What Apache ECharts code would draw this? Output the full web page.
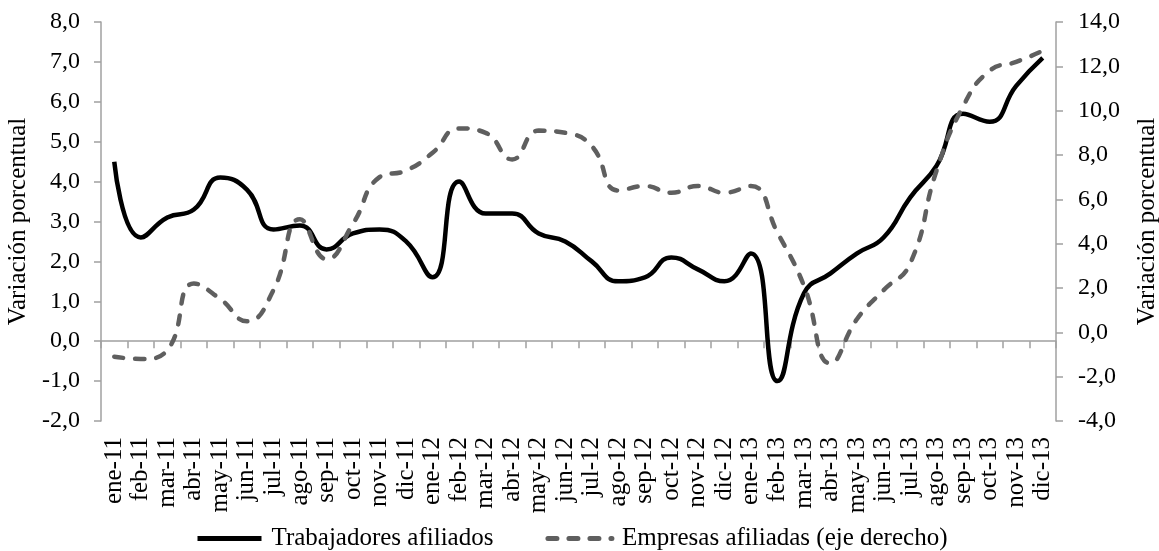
<!DOCTYPE html>
<html>
<head>
<meta charset="utf-8">
<script src="https://cdn.jsdelivr.net/npm/echarts@6/dist/echarts.min.js"></script>
<style>
  html, body { margin: 0; padding: 0; background: #fff; }
  #chart { width: 1159px; height: 551px; }
</style>
</head>
<body>
<div id="chart"></div>
<script>
const months = [
  "ene-11", "feb-11", "mar-11", "abr-11", "may-11", "jun-11", "jul-11", "ago-11", "sep-11", "oct-11", "nov-11", "dic-11",
  "ene-12", "feb-12", "mar-12", "abr-12", "may-12", "jun-12", "jul-12", "ago-12", "sep-12", "oct-12", "nov-12", "dic-12",
  "ene-13", "feb-13", "mar-13", "abr-13", "may-13", "jun-13", "jul-13", "ago-13", "sep-13", "oct-13", "nov-13", "dic-13"
];

// eje izquierdo
const trabajadores = [
  4.5, 2.6, 3.1, 3.3, 4.1, 3.8, 2.8, 2.9, 2.3, 2.7, 2.8, 2.5,
  1.6, 4.0, 3.2, 3.2, 2.7, 2.5, 2.0, 1.5, 1.6, 2.1, 1.8, 1.5,
  2.2, -1.0, 1.2, 1.7, 2.2, 2.6, 3.6, 4.4, 5.7, 5.5, 6.4, 7.1
];

// eje derecho
const empresas = [
  -1.1, -1.2, -0.8, 2.2, 1.5, 0.5, 1.9, 5.1, 3.3, 4.9, 7.0, 7.3,
  8.1, 9.2, 9.0, 7.8, 9.1, 9.0, 8.4, 6.4, 6.6, 6.3, 6.6, 6.3,
  6.6, 4.5, 2.1, -1.4, 0.6, 1.9, 3.1, 7.3, 10.2, 11.8, 12.2, 12.7
];

const font = "Liberation Serif";
const axisGray = "#a0a0a0";
const fmt = (v) => v.toFixed(1).replace(".", ",");

const chart = echarts.init(document.getElementById("chart"));

chart.setOption({
  animation: false,
  textStyle: { fontFamily: font, color: "#000" },
  grid: { left: 101, right: 103, top: 22, bottom: 130, containLabel: false, outerBoundsMode: "none" },
  legend: {
    top: 521,
    left: 190,
    itemWidth: 64,
    itemHeight: 14,
    itemGap: 52,
    itemStyle: { opacity: 0 },
    lineStyle: { width: 5 },
    textStyle: { fontFamily: font, fontSize: 25, color: "#000", padding: [0, 0, 0, 5] },
    data: ["Trabajadores afiliados", "Empresas afiliadas (eje derecho)"]
  },
  xAxis: [
    {
      type: "category",
      data: months,
      position: "bottom",
      boundaryGap: true,
      axisLine: { onZero: true, onZeroAxisIndex: 0, lineStyle: { color: axisGray, width: 1.5 } },
      axisTick: { show: true, interval: 0, length: 7, lineStyle: { color: axisGray, width: 1.5 } },
      axisLabel: { show: false }
    },
    {
      type: "category",
      data: months,
      position: "bottom",
      boundaryGap: true,
      axisLine: { show: false, onZero: false },
      axisTick: { show: false },
      axisLabel: {
        interval: 0,
        rotate: 90,
        margin: 16,
        fontSize: 25,
        fontFamily: font,
        color: "#000"
      }
    }
  ],
  yAxis: [
    {
      type: "value",
      min: -2,
      max: 8,
      interval: 1,
      name: "Variación porcentual",
      nameLocation: "middle",
      nameRotate: 90,
      nameGap: 67,
      nameTextStyle: { fontSize: 25, fontFamily: font, color: "#000" },
      axisLine: { show: true, lineStyle: { color: axisGray, width: 1.5 } },
      axisTick: { show: true, length: 7, lineStyle: { color: axisGray, width: 1.5 } },
      splitLine: { show: false },
      axisLabel: { formatter: fmt, fontSize: 24, fontFamily: font, margin: 21, color: "#000" }
    },
    {
      type: "value",
      position: "right",
      min: -4,
      max: 14,
      interval: 2,
      name: "Variación porcentual",
      nameLocation: "middle",
      nameRotate: 90,
      nameGap: 79,
      nameTextStyle: { fontSize: 25, fontFamily: font, color: "#000" },
      axisLine: { show: true, lineStyle: { color: axisGray, width: 1.5 } },
      axisTick: { show: true, length: 7, lineStyle: { color: axisGray, width: 1.5 } },
      splitLine: { show: false },
      axisLabel: { formatter: fmt, fontSize: 24, fontFamily: font, margin: 22, color: "#000" }
    }
  ],
  series: [
    {
      name: "Trabajadores afiliados",
      type: "line",
      xAxisIndex: 0,
      yAxisIndex: 0,
      smooth: true,
      symbol: "none",
      itemStyle: { color: "#000" },
      lineStyle: { color: "#000", width: 4.5 },
      data: trabajadores
    },
    {
      name: "Empresas afiliadas (eje derecho)",
      type: "line",
      xAxisIndex: 0,
      yAxisIndex: 1,
      smooth: true,
      symbol: "none",
      itemStyle: { color: "#5f5f5f" },
      lineStyle: { color: "#5f5f5f", width: 4.5, type: [9, 12], cap: "round" },
      data: empresas
    }
  ]
});
</script>
</body>
</html>
